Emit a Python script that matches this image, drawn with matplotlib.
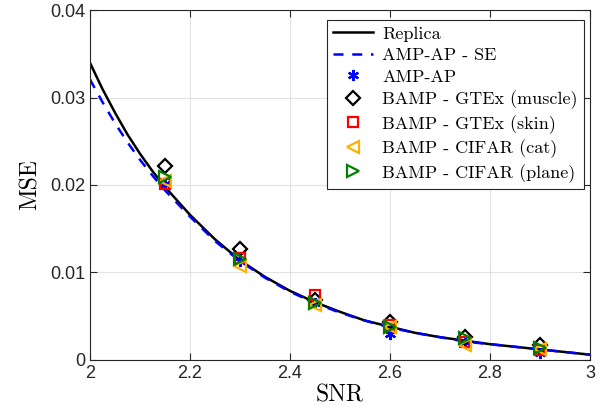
import matplotlib
matplotlib.use("Agg")
import matplotlib.pyplot as plt

# curves
snr_curve = [2.000, 2.025, 2.050, 2.075, 2.100, 2.125, 2.15, 2.20, 2.25, 2.30, 2.35,
             2.40, 2.45, 2.50, 2.55, 2.60, 2.65, 2.70, 2.75, 2.80, 2.85, 2.90,
             2.95, 3.00]
replica = [0.0340, 0.0310, 0.0283, 0.0258, 0.0236, 0.0216, 0.0198, 0.0166, 0.0138,
           0.0114, 0.0095, 0.0079, 0.0066, 0.0055, 0.0045, 0.0038, 0.0031, 0.0026,
           0.0022, 0.0018, 0.0015, 0.0012, 0.0009, 0.0006]
amp_se = [0.0321, 0.0295, 0.0271, 0.0249, 0.0229, 0.0211, 0.0194, 0.0164, 0.0136,
          0.0113, 0.0094, 0.0078, 0.0065, 0.0054, 0.0045, 0.0037, 0.0031, 0.0026,
          0.0021, 0.0018, 0.0015, 0.0012, 0.0009, 0.0006]

# simulation points
snr_pts = [2.15, 2.30, 2.45, 2.60, 2.75, 2.90]
amp_ap = [0.0201, 0.0113, 0.0065, 0.0030, 0.0021, 0.0008]
gtex_muscle = [0.0222, 0.0127, 0.0068, 0.0043, 0.0026, 0.0017]
gtex_skin = [0.0201, 0.0116, 0.0074, 0.0040, 0.0021, 0.0011]
cifar_cat = [0.0205, 0.0107, 0.0063, 0.0038, 0.0017, 0.0012]
cifar_plane = [0.0209, 0.0115, 0.0065, 0.0038, 0.0025, 0.0014]

serif = "cmr10"

fig = plt.figure(figsize=(6.07, 4.19), dpi=100)
ax = fig.add_axes([0.148, 0.141, 0.824, 0.835])

ax.plot(snr_curve, replica, color="black", lw=1.8, label="Replica")
ax.plot(snr_curve, amp_se, color="blue", lw=1.8, ls=(0, (4, 3.5)), label="AMP-AP - SE")
ax.plot(snr_pts, amp_ap, ls="none", marker=(6, 2, 0), ms=8, mew=1.6, color="blue",
        label="AMP-AP")
ax.plot(snr_pts, gtex_muscle, ls="none", marker="D", ms=7, mew=1.6, mfc="none",
        color="black", label="BAMP - GTEx (muscle)")
ax.plot(snr_pts, gtex_skin, ls="none", marker="s", ms=7, mew=1.6, mfc="none",
        color="red", label="BAMP - GTEx (skin)")
ax.plot(snr_pts, cifar_cat, ls="none", marker="<", ms=9, mew=1.6, mfc="none",
        color="#FFB000", label="BAMP - CIFAR (cat)")
ax.plot(snr_pts, cifar_plane, ls="none", marker=">", ms=9, mew=1.6, mfc="none",
        color="#008000", label="BAMP - CIFAR (plane)")

ax.set_xlim(2, 3)
ax.set_ylim(0, 0.04)
ax.set_xticks([2, 2.2, 2.4, 2.6, 2.8, 3])
ax.set_xticklabels(["2", "2.2", "2.4", "2.6", "2.8", "3"])
ax.set_yticks([0, 0.01, 0.02, 0.03, 0.04])
ax.set_yticklabels(["0", "0.01", "0.02", "0.03", "0.04"])
ax.tick_params(direction="in", top=True, right=True, length=5, width=0.8,
               labelsize=13, colors="#262626")
for lab in ax.get_xticklabels() + ax.get_yticklabels():
    lab.set_fontfamily("Liberation Sans")
    lab.set_color("#262626")
ax.grid(True, color="#e3e3e3", lw=0.8)
ax.set_axisbelow(True)
for sp in ax.spines.values():
    sp.set_color("#262626")
    sp.set_linewidth(0.8)

ax.set_xlabel("SNR", fontfamily=serif, fontsize=17, labelpad=2)
ax.set_ylabel("MSE", fontfamily=serif, fontsize=17, labelpad=6)

leg = ax.legend(loc="upper right", bbox_to_anchor=(0.988, 0.972),
                prop={"family": serif, "size": 13}, fancybox=False,
                edgecolor="#262626", framealpha=1, handlelength=2.2,
                handletextpad=0.5, labelspacing=0.32, borderpad=0.35,
                borderaxespad=0.0)
leg.get_frame().set_linewidth(0.8)

fig.savefig("out.png", dpi=100)
